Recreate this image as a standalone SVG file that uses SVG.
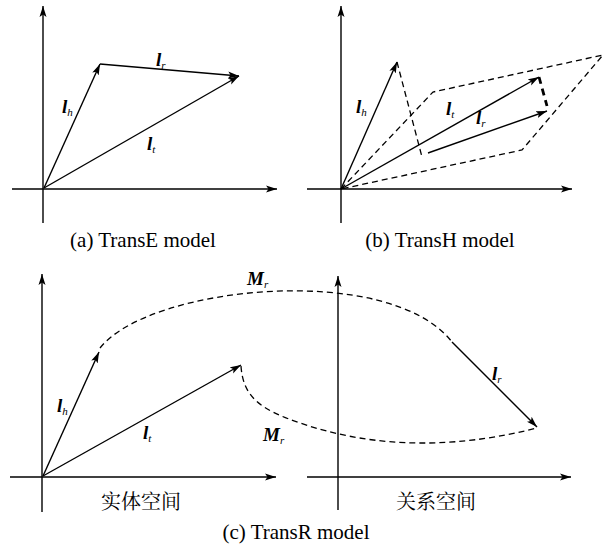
<svg xmlns="http://www.w3.org/2000/svg" width="605" height="547" viewBox="0 0 605 547">
<defs>
<marker id="ah" markerUnits="userSpaceOnUse" markerWidth="12" markerHeight="8" refX="11" refY="4" orient="auto">
<path d="M0,0.5 L11,4 L0,7.5 L2.5,4 Z" fill="#000"/>
</marker>
<style>
.ax{stroke:#000;stroke-width:1.4;fill:none;marker-end:url(#ah)}
.v{stroke:#000;stroke-width:1.4;fill:none;marker-end:url(#ah)}
.d{stroke:#000;stroke-width:1.3;fill:none;stroke-dasharray:6 4}
.dk{stroke:#000;stroke-width:2.8;fill:none;stroke-dasharray:7 5}
.lb{font-size:19px;font-weight:bold;font-style:italic;fill:#000}
.sb{font-size:11px;font-weight:normal}
.cap{font-size:21px;fill:#000}
.cjk{font-size:20px;fill:#000}
</style>
</defs>
<rect width="605" height="547" fill="#fff"/>

<g id="panel-a">
<g id="a-axes">
<line class="ax" x1="43" y1="223" x2="43" y2="6"/>
<line class="ax" x1="12" y1="189" x2="277" y2="189"/>
</g>
<g id="a-vectors">
<line class="v" x1="44" y1="188" x2="100" y2="64"/>
<line class="v" x1="100" y1="64" x2="239" y2="76"/>
<line class="v" x1="44" y1="188" x2="239" y2="76"/>
</g>
<g id="a-labels" font-family="Liberation Serif, DejaVu Serif, serif">
<text class="lb" x="156" y="66">l<tspan class="sb" dy="3">r</tspan></text>
<text class="lb" x="62" y="113">l<tspan class="sb" dy="3">h</tspan></text>
<text class="lb" x="147" y="150">l<tspan class="sb" dy="3">t</tspan></text>
</g>
<text class="cap" font-family="Liberation Serif, DejaVu Serif, serif" x="143" y="247" text-anchor="middle">(a) TransE model</text>
</g>

<g id="panel-b">
<g id="b-plane">
<path class="d" d="M341,189 L433,92 L603,55 L522,150 Z"/>
<line class="d" x1="397" y1="62" x2="422" y2="157"/>
</g>
<g id="b-axes">
<line class="ax" x1="341" y1="223" x2="341" y2="6"/>
<line class="ax" x1="307" y1="189" x2="572" y2="189"/>
</g>
<g id="b-vectors">
<line class="v" x1="341" y1="189" x2="397" y2="62"/>
<line class="v" x1="341" y1="189" x2="539" y2="77"/>
<line class="v" x1="428" y1="153" x2="547" y2="111"/>
<line class="dk" x1="539" y1="77" x2="547" y2="106"/>
</g>
<g id="b-labels" font-family="Liberation Serif, DejaVu Serif, serif">
<text class="lb" x="356" y="113">l<tspan class="sb" dy="3">h</tspan></text>
<text class="lb" x="446" y="115">l<tspan class="sb" dy="3">t</tspan></text>
<text class="lb" x="476" y="124">l<tspan class="sb" dy="3">r</tspan></text>
</g>
<text class="cap" font-family="Liberation Serif, DejaVu Serif, serif" x="440" y="247" text-anchor="middle">(b) TransH model</text>
</g>

<g id="panel-c">
<g id="c-axes">
<line class="ax" x1="42" y1="512" x2="42" y2="274"/>
<line class="ax" x1="10" y1="477" x2="276" y2="477"/>
<line class="ax" x1="338" y1="510" x2="338" y2="276"/>
<line class="ax" x1="307" y1="477" x2="571" y2="477"/>
</g>
<g id="c-mappings">
<path class="d" d="M100,348 C150,285 390,262 452,342"/>
<path class="d" d="M241,366 C243,398 262,410 300,423 S420,458 537,428"/>
</g>
<g id="c-vectors">
<line class="v" x1="43" y1="476" x2="99" y2="352"/>
<line class="v" x1="43" y1="476" x2="241" y2="365"/>
<line class="v" x1="452" y1="342" x2="537" y2="427"/>
</g>
<g id="c-labels" font-family="Liberation Serif, DejaVu Serif, serif">
<text class="lb" x="247" y="285">M<tspan class="sb" dy="3">r</tspan></text>
<text class="lb" x="263" y="441">M<tspan class="sb" dy="3">r</tspan></text>
<text class="lb" x="57" y="412">l<tspan class="sb" dy="3">h</tspan></text>
<text class="lb" x="143" y="439">l<tspan class="sb" dy="3">t</tspan></text>
<text class="lb" x="492" y="380">l<tspan class="sb" dy="3">r</tspan></text>
</g>
<text class="cjk" font-family="Noto Serif CJK SC, Noto Sans CJK SC, sans-serif" x="141" y="509" text-anchor="middle">实体空间</text>
<text class="cjk" font-family="Noto Serif CJK SC, Noto Sans CJK SC, sans-serif" x="436" y="509" text-anchor="middle">关系空间</text>
<text class="cap" font-family="Liberation Serif, DejaVu Serif, serif" x="296" y="539" text-anchor="middle">(c) TransR model</text>
</g>
</svg>
